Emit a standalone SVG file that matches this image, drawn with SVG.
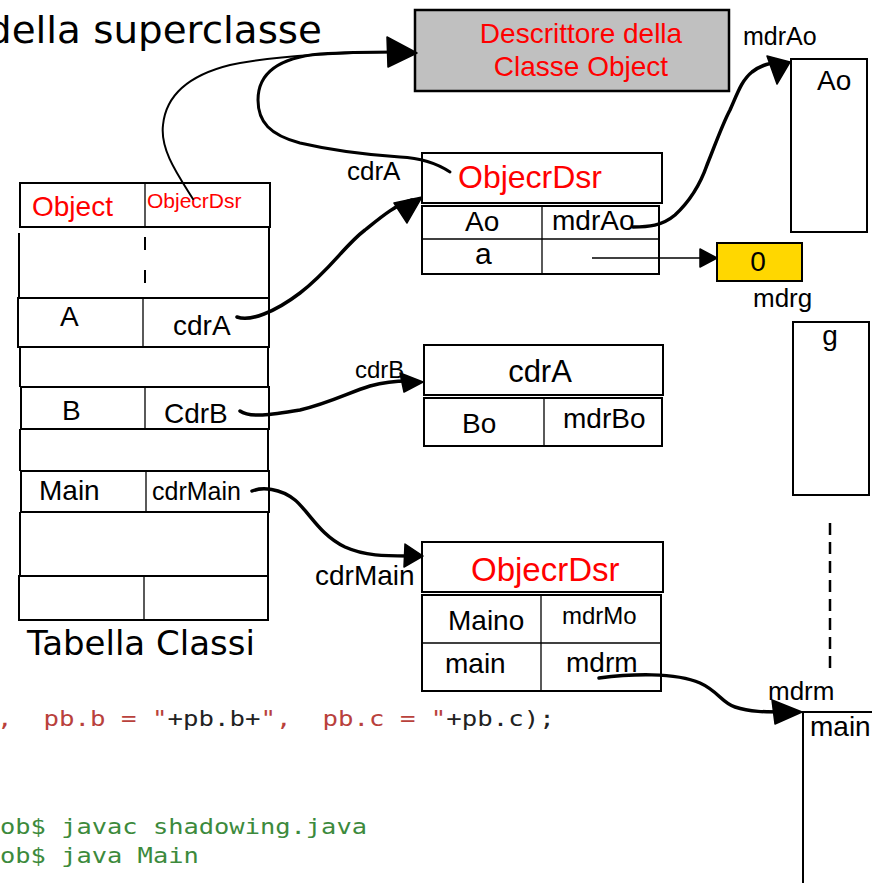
<svg xmlns="http://www.w3.org/2000/svg" width="872" height="883" viewBox="0 0 872 883">
<style>
.box{fill:#fff;stroke:#000;stroke-width:2}
.ln{stroke:#000;stroke-width:2;fill:none}
.thin{stroke:#000;stroke-width:1.3;fill:none}
.t{font-family:"Liberation Sans",Arial,sans-serif;fill:#000}
.r{fill:#ff0000}
.dv{font-family:"DejaVu Sans",Verdana,sans-serif;fill:#000}
.code{font-family:"DejaVu Sans Mono","Liberation Mono",monospace;font-size:21px;white-space:pre}
.wire{fill:none;stroke:#000;stroke-linecap:round;stroke-linejoin:round}
.head{fill:#000;stroke:#000;stroke-width:1.5;stroke-linejoin:round}
</style>
<rect width="872" height="883" fill="#fff"/>

<text class="dv" x="-13" y="43" font-size="38" textLength="335" lengthAdjust="spacingAndGlyphs">della superclasse</text>

<g id="descrittore">
<rect x="415" y="10" width="314" height="81" fill="#c0c0c0" stroke="#000" stroke-width="2.5"/>
<text class="t r" x="581" y="43" font-size="28" text-anchor="middle">Descrittore della</text>
<text class="t r" x="581" y="76" font-size="28" text-anchor="middle">Classe Object</text>
</g>

<g id="ao-box">
<text class="t" x="743" y="45" font-size="25">mdrAo</text>
<rect class="box" x="791" y="59" width="76" height="173"/>
<text class="t" x="817" y="90" font-size="28">Ao</text>
</g>

<g id="tabella">
<rect class="box" x="20" y="183" width="250" height="44"/>
<line class="thin" x1="145" y1="183" x2="145" y2="227"/>
<text class="t r" x="32" y="216" font-size="28">Object</text>
<text class="t r" x="147" y="208" font-size="21">ObjecrDsr</text>
<line class="ln" x1="19" y1="233" x2="19" y2="298"/>
<line class="ln" x1="269" y1="227" x2="269" y2="298"/>
<line class="ln" x1="145" y1="237" x2="145" y2="250"/>
<line class="ln" x1="145" y1="270" x2="145" y2="283"/>
<rect class="box" x="18" y="298" width="251" height="49"/>
<line class="thin" x1="143" y1="298" x2="143" y2="347"/>
<text class="t" x="60" y="326" font-size="28">A</text>
<text class="t" x="173" y="335" font-size="28">cdrA</text>
<line class="ln" x1="20" y1="347" x2="20" y2="387"/>
<line class="ln" x1="268" y1="347" x2="268" y2="387"/>
<rect class="box" x="21" y="387" width="248" height="42"/>
<line class="thin" x1="145" y1="387" x2="145" y2="429"/>
<text class="t" x="62" y="420" font-size="28">B</text>
<text class="t" x="164" y="423" font-size="28">CdrB</text>
<line class="ln" x1="20" y1="429" x2="20" y2="471"/>
<line class="ln" x1="268" y1="429" x2="268" y2="471"/>
<rect class="box" x="21" y="471" width="248" height="41"/>
<line class="thin" x1="146" y1="471" x2="146" y2="512"/>
<text class="t" x="39" y="500" font-size="28">Main</text>
<text class="t" x="152" y="500" font-size="25">cdrMain</text>
<line class="ln" x1="20" y1="512" x2="20" y2="576"/>
<line class="ln" x1="268" y1="512" x2="268" y2="576"/>
<rect class="box" x="19" y="576" width="249" height="44"/>
<line class="thin" x1="144" y1="576" x2="144" y2="620"/>
<text class="dv" x="27" y="655" font-size="34">Tabella Classi</text>
</g>

<g id="descA">
<text class="t" x="347" y="180" font-size="26">cdrA</text>
<rect class="box" x="422" y="153" width="240" height="50" stroke-width="2.5"/>
<text class="t r" x="458" y="188" font-size="32">ObjecrDsr</text>
<rect class="box" x="422" y="206" width="237" height="68"/>
<line class="thin" x1="422" y1="239" x2="659" y2="239"/>
<line class="thin" x1="542" y1="206" x2="542" y2="274"/>
<text class="t" x="465" y="231" font-size="28">Ao</text>
<text class="t" x="552" y="230" font-size="28">mdrAo</text>
<text class="t" x="475" y="264" font-size="30">a</text>
</g>

<g id="mdrg">
<rect x="717" y="243" width="85" height="38" fill="#ffd700" stroke="#000" stroke-width="2"/>
<text class="t" x="758" y="271" font-size="28" text-anchor="middle">0</text>
<text class="t" x="753" y="307" font-size="26">mdrg</text>
</g>

<g id="g-box">
<rect class="box" x="793" y="322" width="76" height="173"/>
<text class="t" x="830" y="345" font-size="28" text-anchor="middle">g</text>
<line x1="830" y1="523" x2="830" y2="675" stroke="#000" stroke-width="2.5" stroke-dasharray="12 7"/>
</g>

<g id="descB">
<text class="t" x="355" y="378" font-size="24">cdrB</text>
<rect class="box" x="424" y="345" width="239" height="50" stroke-width="2.5"/>
<text class="t" x="540" y="382" font-size="31" text-anchor="middle">cdrA</text>
<rect class="box" x="424" y="398" width="238" height="48"/>
<line class="thin" x1="544" y1="398" x2="544" y2="446"/>
<text class="t" x="462" y="433" font-size="28">Bo</text>
<text class="t" x="563" y="428" font-size="28">mdrBo</text>
</g>

<g id="descMain">
<text class="t" x="315" y="585" font-size="28">cdrMain</text>
<rect class="box" x="422" y="542" width="241" height="50" stroke-width="2.5"/>
<text class="t r" x="471" y="581" font-size="33">ObjecrDsr</text>
<rect class="box" x="422" y="595" width="239" height="96"/>
<line class="thin" x1="422" y1="643" x2="661" y2="643"/>
<line class="thin" x1="541" y1="595" x2="541" y2="691"/>
<text class="t" x="448" y="630" font-size="28">Maino</text>
<text class="t" x="562" y="624" font-size="24">mdrMo</text>
<text class="t" x="445" y="673" font-size="28">main</text>
<text class="t" x="566" y="672" font-size="28">mdrm</text>
</g>

<g id="main-box">
<text class="t" x="768" y="700" font-size="26">mdrm</text>
<polyline class="ln" points="803,883 803,712 872,712"/>
<text class="t" x="810" y="736" font-size="28">main</text>
</g>

<g id="connectors">
<path class="wire" stroke-width="2" d="M193,199 C178,175 160,150 163,125 C166,95 190,75 230,65 C270,56 330,53 395,52"/>
<path class="wire" stroke-width="3" d="M450,172 C435,162 420,158 400,157 C370,155 330,150 300,143 C270,135 258,122 258,100 C258,75 275,58 320,54 C350,52 370,52 395,52"/>
<polygon class="head" points="417,53 387,37 388,67"/>
<path class="wire" stroke-width="3.5" d="M237,317 C250,322 275,312 300,293 C330,270 345,245 365,230 C380,218 395,205 412,200"/>
<polygon class="head" points="422,197 394,203 407,223"/>
<path class="wire" stroke-width="3.5" d="M240,411 C250,418 270,415 300,410 C330,403 350,392 370,386 C385,382 395,381 408,381"/>
<polygon class="head" points="423,382 400,373 404,392"/>
<path class="wire" stroke-width="3.5" d="M252,491 C262,487 280,488 295,500 C310,513 320,535 345,547 C365,556 385,556 408,556"/>
<polygon class="head" points="423,556 405,544 404,567"/>
<path class="wire" stroke-width="3.5" d="M633,227 C648,227 662,226 675,215 C688,203 700,185 707,165 C714,148 722,125 730,110 C738,92 742,80 752,72 C760,66 766,64 778,62"/>
<polygon class="head" points="790,62 767,56 777,84"/>
<path class="thin" d="M592,258 L702,258"/>
<polygon class="head" points="717,258 700,249 700,267" stroke-width="1"/>
<path class="wire" stroke-width="3.5" d="M599,678 C630,674 675,672 700,683 C718,691 722,703 735,707 C750,712 765,712 785,712"/>
<polygon class="head" points="802,712 772,700 775,724"/>
</g>

<g id="code">
<text class="code" xml:space="preserve" transform="translate(-3,726) scale(1.226,1)" x="0" y="0"><tspan fill="#b9413c">,  pb.b = "</tspan><tspan fill="#222">+pb.b+</tspan><tspan fill="#b9413c">",  pb.c = "</tspan><tspan fill="#222">+pb.c);</tspan></text>
<text class="code" xml:space="preserve" transform="translate(0,834) scale(1.21,1)" x="0" y="0" fill="#3c8a3c">ob$ javac shadowing.java</text>
<text class="code" xml:space="preserve" transform="translate(0,863) scale(1.21,1)" x="0" y="0" fill="#3c8a3c">ob$ java Main</text>
</g>
</svg>
